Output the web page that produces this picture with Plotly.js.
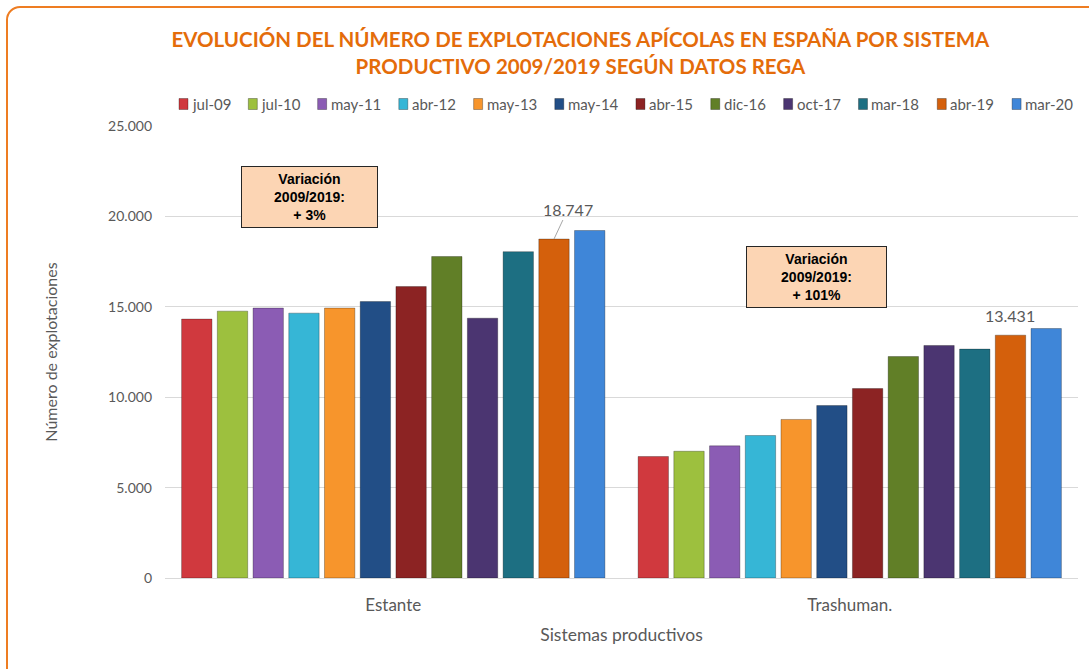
<!DOCTYPE html>
<html>
<head>
<meta charset="utf-8">
<script src="https://cdn.plot.ly/plotly-3.0.1.min.js"></script>
<style>
  html, body { margin: 0; padding: 0; background: #ffffff; }
  #wrap { position: relative; width: 1089px; height: 669px; overflow: hidden; }
  #frame { position: absolute; left: 6px; top: 6px; width: 1100px; height: 680px;
           border: 2px solid #EE7D22; border-radius: 14px; box-sizing: border-box; pointer-events: none; }
  #chart { position: absolute; left: 0; top: 0; width: 1089px; height: 669px; }
</style>
</head>
<body>
<div id="wrap">
  <div id="chart"></div>
  <div id="frame"></div>
</div>
<script>
// ---- data ----
const categories = ['Estante', 'Trashuman.'];
const periods = ['jul-09','jul-10','may-11','abr-12','may-13','may-14','abr-15','dic-16','oct-17','mar-18','abr-19','mar-20'];
const estanteValues   = [14320, 14760, 14930, 14650, 14930, 15290, 16120, 17780, 14370, 18050, 18747, 19220];
const trashumanValues = [6720, 7010, 7310, 7880, 8770, 9540, 10480, 12250, 12860, 12660, 13431, 13800];
const labelledPeriod = 'abr-19';
const variationTexts = ['Variación<br>2009/2019:<br>+ 3%', 'Variación<br>2009/2019:<br>+ 101%'];
const yTicks = [0, 5000, 10000, 15000, 20000, 25000];

// ---- style ----
const colors = ['#D0393E','#9DC03E','#8B5CB4','#36B6D6','#F7952C','#224E86',
                '#8C2323','#617F27','#4B3571','#1D6F82','#D4600C','#3F86D8'];
const grey = '#595959';
const font = 'Lato, "Open Sans", Arial, sans-serif';

function fmt(v) {
  const s = String(Math.round(v));
  return s.replace(/\B(?=(\d{3})+(?!\d))/g, '.');
}

const traces = periods.map((p, i) => ({
  type: 'bar',
  name: p,
  x: categories,
  y: [estanteValues[i], trashumanValues[i]],
  marker: { color: colors[i], line: { color: 'rgba(0,0,0,0.28)', width: 1 } },
  hoverinfo: 'x+y+name',
  showlegend: false
}));

const margin = { l: 165, r: 11, t: 126, b: 91 };
const W = 1089, H = 669;
const plotW = W - margin.l - margin.r;
const plotH = H - margin.t - margin.b;
const px2x = px => (px - margin.l) / plotW;
const py2y = py => (H - margin.b - py) / plotH;

const bargap = 0.061;
const slotW = (plotW / categories.length) * (1 - bargap) / periods.length;
const li = periods.indexOf(labelledPeriod);
const labelShift = (li - (periods.length - 1) / 2) * slotW;

const annotations = [
  {
    x: categories[0], y: estanteValues[li], xref: 'x', yref: 'y',
    text: fmt(estanteValues[li]), xshift: labelShift,
    showarrow: true, arrowhead: 0, arrowwidth: 1, arrowcolor: '#A6A6A6',
    ax: 14, ay: -30, standoff: 0,
    font: { family: font, size: 16, color: grey }
  },
  {
    x: categories[1], y: trashumanValues[li], xref: 'x', yref: 'y',
    text: fmt(trashumanValues[li]), xshift: labelShift,
    showarrow: false, yanchor: 'bottom', yshift: 8,
    font: { family: font, size: 16, color: grey }
  },
  {
    xref: 'paper', yref: 'paper', x: px2x(309), y: py2y(197), xanchor: 'center', yanchor: 'middle',
    text: variationTexts[0], showarrow: false, align: 'center',
    bgcolor: '#FCD5B4', bordercolor: '#262626', borderwidth: 1, borderpad: 2,
    width: 131, height: 56,
    font: { family: 'Liberation Sans, Arial, sans-serif', size: 14, color: '#000000', weight: 'bold' }
  },
  {
    xref: 'paper', yref: 'paper', x: px2x(816), y: py2y(277), xanchor: 'center', yanchor: 'middle',
    text: variationTexts[1], showarrow: false, align: 'center',
    bgcolor: '#FCD5B4', bordercolor: '#262626', borderwidth: 1, borderpad: 2,
    width: 135, height: 56,
    font: { family: 'Liberation Sans, Arial, sans-serif', size: 14, color: '#000000', weight: 'bold' }
  }
];

// ---- legend (single row, compact like the original) ----
const legendFontSize = 15;
const legendLeft = 179, legendRight = 1072, legendY = 104;
const sqW = 9, sqH = 11, sqGap = 3;
const ctx = document.createElement('canvas').getContext('2d');
ctx.font = legendFontSize + 'px Lato';
const textW = periods.map(p => ctx.measureText(p).width);
const used = textW.reduce((a, b) => a + b, 0) + periods.length * (sqW + sqGap);
const itemGap = (legendRight - legendLeft - used) / (periods.length - 1);
const shapes = [];
let cx = legendLeft;
periods.forEach((p, i) => {
  shapes.push({
    type: 'rect', xref: 'paper', yref: 'paper',
    x0: px2x(cx), x1: px2x(cx + sqW),
    y0: py2y(legendY + sqH / 2), y1: py2y(legendY - sqH / 2),
    fillcolor: colors[i], line: { color: 'rgba(0,0,0,0.3)', width: 1 }
  });
  annotations.push({
    xref: 'paper', yref: 'paper', x: px2x(cx + sqW + sqGap), y: py2y(legendY),
    xanchor: 'left', yanchor: 'middle', showarrow: false, text: p,
    font: { family: font, size: legendFontSize, color: grey }, borderpad: 0
  });
  cx += sqW + sqGap + textW[i] + itemGap;
});

const layout = {
  width: W, height: H,
  margin: margin,
  paper_bgcolor: 'rgba(0,0,0,0)',
  plot_bgcolor: 'rgba(0,0,0,0)',
  separators: ',.',
  barmode: 'group',
  bargap: bargap,
  bargroupgap: 0.15,
  title: {
    text: 'EVOLUCIÓN DEL NÚMERO DE EXPLOTACIONES APÍCOLAS EN ESPAÑA POR SISTEMA<br>PRODUCTIVO 2009/2019 SEGÚN DATOS REGA',
    font: { family: font, size: 20.5, color: '#E46C0A', weight: 'bold' },
    xref: 'container', x: 0.533, xanchor: 'center',
    yref: 'container', y: 1 - 47 / H, yanchor: 'top'
  },
  showlegend: false,
  xaxis: {
    type: 'category',
    showline: true, linecolor: '#D9D9D9', linewidth: 1,
    ticks: '', showgrid: false, ticklabelstandoff: 12,
    tickfont: { family: font, size: 17, color: grey },
    title: { text: 'Sistemas productivos', font: { family: font, size: 17.5, color: grey }, standoff: 14 }
  },
  yaxis: {
    range: [0, 25000],
    tickvals: yTicks,
    tickformat: ',d',
    showgrid: true, gridcolor: '#D9D9D9', gridwidth: 1,
    zeroline: false, showline: false,
    ticks: '', ticklabelstandoff: 12,
    tickfont: { family: font, size: 14, color: grey },
    title: { text: 'Número de explotaciones', font: { family: font, size: 16, color: grey }, standoff: 46 }
  },
  annotations: annotations,
  shapes: shapes
};

Plotly.newPlot('chart', traces, layout, { displayModeBar: false, staticPlot: true });
</script>
</body>
</html>
